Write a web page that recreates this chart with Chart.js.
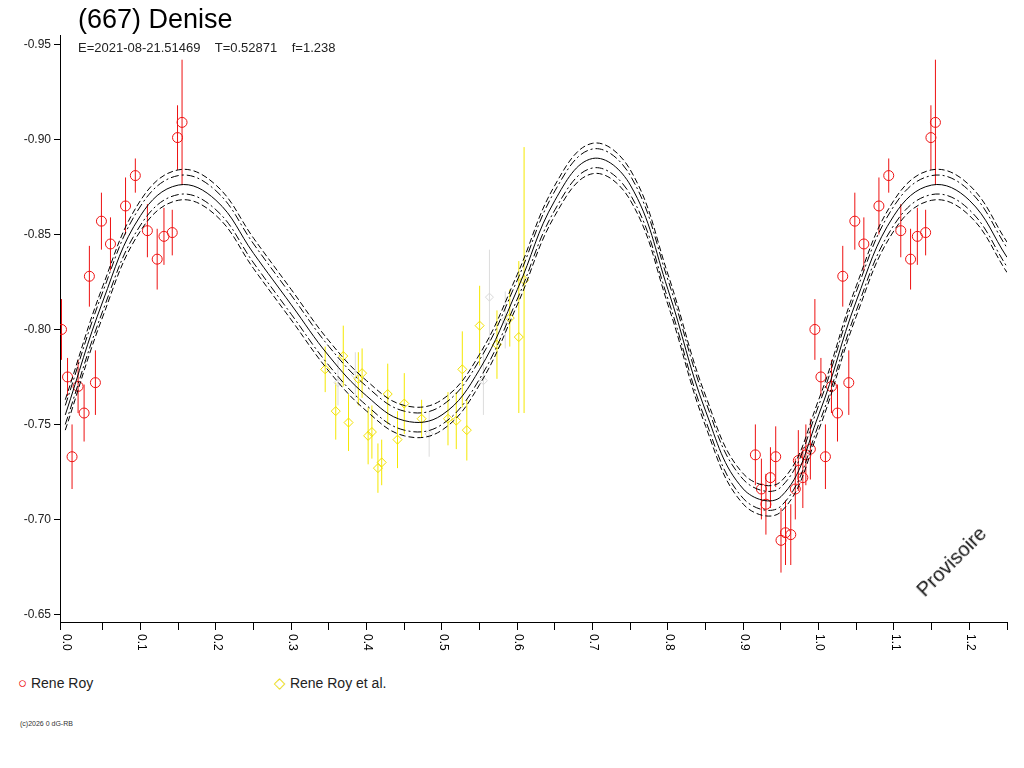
<!DOCTYPE html>
<html><head><meta charset="utf-8">
<script src="https://cdn.jsdelivr.net/npm/chart.js@4"></script>
<style>
body{margin:0;background:#fff;width:1024px;height:768px;position:relative;font-family:"Liberation Sans",Arial,sans-serif;overflow:hidden}
#wrap{position:absolute;left:0;top:0;width:1024px;height:660px}
.t{position:absolute;color:#000;white-space:pre}
</style></head><body>
<div id="wrap"><canvas id="c"></canvas></div>
<div class="t" style="left:78px;top:4px;font-size:27px;">(667) Denise</div>
<div class="t" style="left:78px;top:40px;font-size:13px;color:#222">E=2021-08-21.51469    T=0.52871    f=1.238</div>
<div class="t" style="left:18px;top:674px;font-size:14px;color:#222"><span style="color:#e00;font-size:15px">○</span> Rene Roy</div>
<div class="t" style="left:274px;top:674px;font-size:14px;color:#222"><span style="color:#e8d800;font-size:15px">◇</span> Rene Roy et al.</div>
<div class="t" style="left:20px;top:720px;font-size:7px;color:#333">(c)2026 0 dG-RB</div>
<div class="t" style="left:912px;top:585px;font-size:20px;color:#111;transform:rotate(-45deg);transform-origin:left top">Provisoire</div>
<script>
const fitX=[0,0.05,0.1,0.15,0.2,0.25,0.3,0.35,0.4,0.45,0.5,0.55,0.6,0.65,0.7,0.75,0.8,0.85,0.9,0.95,1.0,1.05,1.1,1.15,1.2,1.25];
const fit=[-0.755,-0.815,-0.860,-0.876,-0.868,-0.840,-0.813,-0.786,-0.765,-0.752,-0.755,-0.779,-0.821,-0.868,-0.890,-0.876,-0.821,-0.757,-0.716,-0.712,-0.755,-0.815,-0.860,-0.876,-0.868,-0.838];
const up1=[-0.760,-0.820,-0.865,-0.881,-0.873,-0.845,-0.818,-0.791,-0.770,-0.757,-0.760,-0.784,-0.826,-0.873,-0.895,-0.881,-0.826,-0.762,-0.721,-0.717,-0.760,-0.820,-0.865,-0.881,-0.873,-0.843];
const up2=[-0.763,-0.823,-0.868,-0.884,-0.876,-0.848,-0.821,-0.794,-0.773,-0.760,-0.763,-0.787,-0.829,-0.876,-0.898,-0.884,-0.829,-0.765,-0.724,-0.720,-0.763,-0.823,-0.868,-0.884,-0.876,-0.846];
const lo1=[-0.750,-0.810,-0.855,-0.871,-0.863,-0.835,-0.808,-0.781,-0.760,-0.747,-0.750,-0.774,-0.816,-0.863,-0.885,-0.871,-0.816,-0.752,-0.711,-0.707,-0.750,-0.810,-0.855,-0.871,-0.863,-0.833];
const lo2=[-0.747,-0.807,-0.852,-0.868,-0.860,-0.832,-0.805,-0.778,-0.757,-0.744,-0.747,-0.771,-0.813,-0.860,-0.882,-0.868,-0.813,-0.749,-0.708,-0.704,-0.747,-0.807,-0.852,-0.868,-0.860,-0.830];
// Rene Roy (phase, mag, error)
const royX=[-0.005,0.003,0.009,0.017,0.025,0.032,0.040,0.048,0.060,0.080,0.093,0.109,0.122,0.131,0.142,0.149,0.155,0.916,0.924,0.930,0.936,0.943,0.950,0.956,0.963,0.969,0.973,0.979,0.983,0.989];
const royY=[-0.800,-0.775,-0.733,-0.770,-0.756,-0.828,-0.772,-0.857,-0.845,-0.865,-0.881,-0.852,-0.837,-0.849,-0.851,-0.901,-0.909,-0.734,-0.716,-0.708,-0.722,-0.733,-0.689,-0.693,-0.692,-0.716,-0.731,-0.722,-0.734,-0.737];
const royE=[0.016,0.010,0.017,0.014,0.015,0.016,0.017,0.015,0.014,0.015,0.009,0.014,0.016,0.015,0.012,0.017,0.033,0.016,0.016,0.016,0.016,0.016,0.017,0.017,0.016,0.016,0.016,0.016,0.016,0.016];
// Rene Roy et al.
const alX=[0.345,0.359,0.369,0.376,0.389,0.394,0.402,0.407,0.415,0.420,0.428,0.441,0.450,0.473,0.508,0.519,0.527,0.533,0.550,0.573,0.590,0.602,0.609];
const alY=[-0.779,-0.757,-0.786,-0.751,-0.774,-0.777,-0.744,-0.746,-0.727,-0.730,-0.766,-0.742,-0.761,-0.753,-0.753,-0.752,-0.779,-0.747,-0.802,-0.792,-0.806,-0.796,-0.826];
const alE=[0.012,0.015,0.016,0.015,0.014,0.013,0.015,0.014,0.013,0.012,0.016,0.015,0.016,0.010,0.014,0.015,0.020,0.016,0.021,0.018,0.015,0.040,0.070];
// grey (excluded) points
const grX=[0.362,0.385,0.483,0.555,0.563,0.584];
const grY=[-0.772,-0.776,-0.745,-0.773,-0.817,-0.805];
const grE=[0.012,0.012,0.012,0.018,0.025,0.015];

function pts(xs,ys,es,wrap){const o=[];xs.forEach((x,i)=>{o.push({x:x,y:ys[i],e:es[i]});if(wrap&&x+1<=1.25)o.push({x:x+1,y:ys[i],e:es[i]});});return o;}
const line=(d,dash,w)=>({type:'line',data:fitX.map((x,i)=>({x:x,y:d[i]})),borderColor:'#000',borderWidth:w,borderDash:dash,pointRadius:0,tension:0.4,fill:false});

const errPlugin={id:'err',beforeDatasetsDraw(ch){const c=ch.ctx,xs=ch.scales.x,ys=ch.scales.y;c.save();
 c.beginPath();c.rect(ch.chartArea.left,ch.chartArea.top,ch.chartArea.right-ch.chartArea.left,ch.chartArea.bottom-ch.chartArea.top);c.clip();
 ch.data.datasets.forEach(ds=>{if(!ds.errColor)return;c.strokeStyle=ds.errColor;c.lineWidth=1;
 ds.data.forEach(p=>{const px=xs.getPixelForValue(p.x);c.beginPath();c.moveTo(px,ys.getPixelForValue(p.y-p.e));c.lineTo(px,ys.getPixelForValue(p.y+p.e));c.stroke();});});
 c.restore();},
 afterDraw(ch){const c=ch.ctx,xs=ch.scales.x;c.save();c.font='12px "Liberation Sans", Arial';c.fillStyle='#000';
 for(let k=0;k<=12;k++){const v=k/10;const px=xs.getPixelForValue(v);c.save();c.translate(px+1,ch.chartArea.bottom+12);c.rotate(Math.PI/2);c.textBaseline='middle';c.fillText(v.toFixed(1),0,0);c.restore();}
 c.restore();}};

new Chart(document.getElementById('c'),{
 type:'scatter',
 data:{datasets:[
  line(up2,[6,3],1),line(up1,[8,3,2,3],1),line(fit,[],1),line(lo1,[8,3,2,3],1),line(lo2,[6,3],1),
  {data:pts(grX,grY,grE,false),pointStyle:'rectRot',radius:4,borderColor:'#d8d8d8',backgroundColor:'rgba(0,0,0,0)',borderWidth:1,errColor:'#dcdcdc'},
  {data:pts(alX,alY,alE,false),pointStyle:'rectRot',radius:4.5,borderColor:'#f0e000',backgroundColor:'rgba(0,0,0,0)',borderWidth:1,errColor:'#f5e800'},
  {data:pts(royX,royY,royE,true),pointStyle:'circle',radius:5,borderColor:'#ee1111',backgroundColor:'rgba(0,0,0,0)',borderWidth:1,errColor:'#ee1111'}
 ]},
 options:{responsive:true,maintainAspectRatio:false,animation:false,
  layout:{padding:{top:35,right:17,left:0,bottom:0}},
  plugins:{legend:{display:false},tooltip:{enabled:false}},
  scales:{
   x:{type:'linear',min:-0.007,max:1.25,afterFit(s){s.height=38;},
      border:{color:'#000'},grid:{drawOnChartArea:false,color:'#000',tickLength:8},
      ticks:{stepSize:0.05,display:true,color:'rgba(0,0,0,0)',font:{size:1},callback:()=>' ',autoSkip:false}},
   y:{min:-0.955,max:-0.646,reverse:true,afterFit(s){s.width=60;},
      afterBuildTicks(s){s.ticks=[-0.95,-0.90,-0.85,-0.80,-0.75,-0.70,-0.65].map(v=>({value:v}));},
      border:{color:'#000'},grid:{drawOnChartArea:false,color:'#000',tickLength:6},
      ticks:{color:'#222',font:{family:'"Liberation Sans", Arial',size:12},callback:v=>v.toFixed(2)}}
  }},
 plugins:[errPlugin]
});
</script></body></html>
